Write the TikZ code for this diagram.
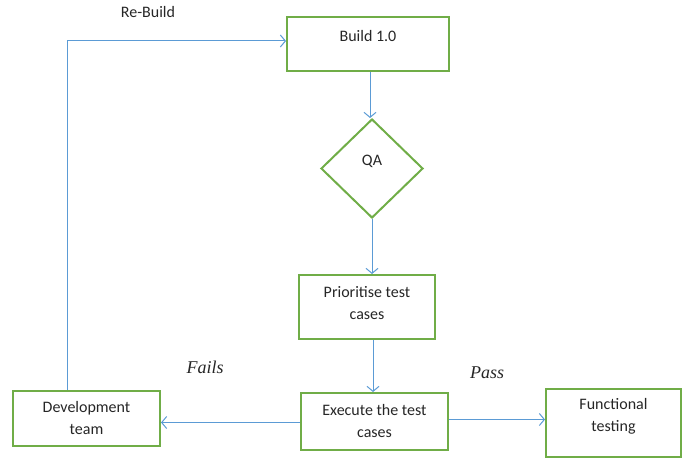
\documentclass[tikz,border=0pt]{standalone}
\usepackage{fontspec}
\setmainfont{Carlito}
\newfontfamily\serifit{Liberation Serif}
\usetikzlibrary{shapes.geometric,arrows.meta,calc}
\definecolor{boxgreen}{HTML}{70AD47}
\definecolor{linkblue}{HTML}{5B9BD5}
\begin{document}
\begin{tikzpicture}[x=1pt,y=1pt,
  box/.style={draw=boxgreen, line width=2pt, rectangle, inner sep=0pt},
  dia/.style={draw=boxgreen, line width=2pt, diamond, inner sep=0pt},
  txt/.style={font=\fontsize{16}{22}\selectfont, align=center, text=black!85, inner sep=0pt},
  lbl/.style={font=\fontsize{18}{22}\selectfont\serifit\itshape, text=black!85, inner sep=0pt},
  link/.style={draw=linkblue, line width=1pt, -{Straight Barb[length=5pt,width=12pt,line width=1pt]}},
  plain/.style={draw=linkblue, line width=1pt}]
\useasboundingbox (0,0) rectangle (693,-476);
% boxes
\node[box, minimum width=162, minimum height=54] (build) at (368,-44) {};
\node[dia, minimum width=102, minimum height=99] (qa) at (372,-168.5) {};
\node[box, minimum width=136, minimum height=64] (prio) at (367,-307) {};
\node[box, minimum width=147, minimum height=57] (exec) at (374.5,-421.5) {};
\node[box, minimum width=147, minimum height=55] (dev) at (86.5,-418.5) {};
\node[box, minimum width=135, minimum height=68] (func) at (613.5,-423) {};
% texts
\node[txt] (tbuild) at (368,-36) {Build 1.0};
\node[txt] (tqa) at (372,-161) {QA};
\node[txt] (tprio) at (367,-303) {Prioritise test\\cases};
\node[txt] (texec) at (374.5,-421.5) {Execute the test\\cases};
\node[txt] (tdev) at (86.5,-418) {Development\\team};
\node[txt] (tfunc) at (613.5,-416) {Functional\\testing};
\node[txt] (trebuild) at (148,-12) {Re-Build};
\node[lbl] (tfails) at (205,-367) {Fails};
\node[lbl] (tpass) at (487,-373) {Pass};
% connectors
\coordinate (b1) at ($(build.south)+(2,0)$);
\draw[link] (b1) -- (b1 |- qa.north);
\coordinate (q1) at (qa.south);
\draw[link] (q1) -- (q1 |- prio.north);
\coordinate (p1) at ($(prio.south)+(6,0)$);
\draw[link] (p1) -- (p1 |- exec.north);
\coordinate (e1) at ($(exec.west)+(0,-1)$);
\draw[link] (e1) -- (e1 -| dev.east);
\coordinate (e2) at ($(exec.east)+(0,2)$);
\draw[link] (e2) -- (e2 -| func.west);
\coordinate (d1) at ($(dev.north west)+(55,0)$);
\coordinate (bw) at ($(build.west)+(0,3)$);
\draw[link] (d1) |- (bw);
\end{tikzpicture}
\end{document}
